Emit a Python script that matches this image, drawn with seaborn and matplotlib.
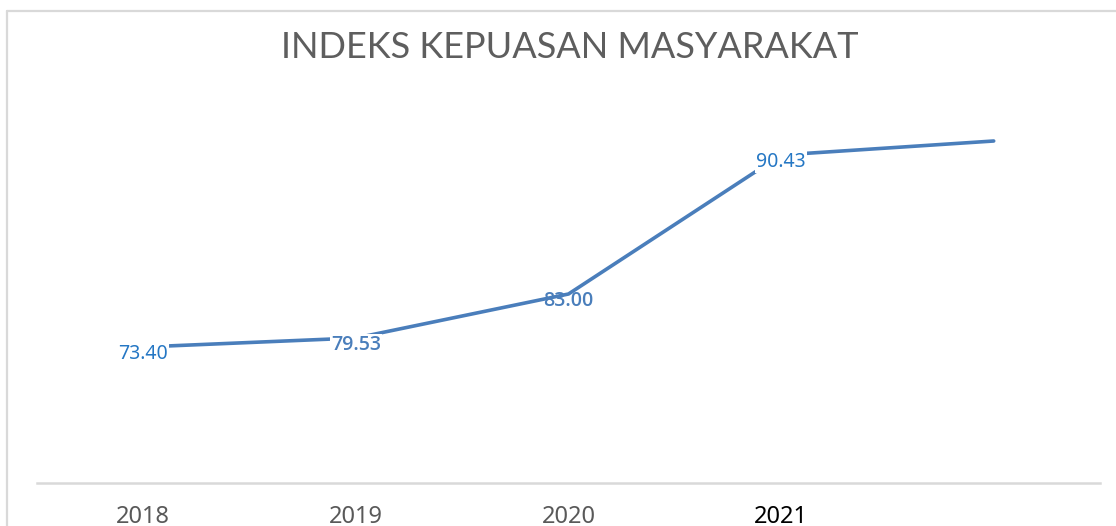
import numpy as np
import pandas as pd
import matplotlib
matplotlib.use("Agg")
import matplotlib.pyplot as plt
from matplotlib.lines import Line2D
import seaborn as sns

# ---- data ----
categories = ["2018", "2019", "2020", "2021", ""]
line_values = [73.6, 74.5, 78.9, 92.8, 94.2]          # plotted positions (estimated)
label_texts = ["73.40", "79.53", "83.00", "90.43"]     # data labels as printed
title_text = "INDEKS KEPUASAN MASYARAKAT"

sns.set_theme(style="white")
plt.rcParams["font.family"] = ["Noto Sans", "DejaVu Sans"]

W, H = 1116, 526
fig = plt.figure(figsize=(W / 100, H / 100), dpi=100)
fig.patch.set_facecolor("white")

# chart frame (left and top borders visible)
frame_col = "#D9D9D9"
fig.add_artist(Line2D([7 / W, 7 / W], [0, 1 - 11 / H], color=frame_col, lw=1.6,
                      transform=fig.transFigure))
fig.add_artist(Line2D([7 / W, 1], [1 - 11 / H, 1 - 11 / H], color=frame_col, lw=1.6,
                      transform=fig.transFigure))

ax = fig.add_axes([37 / W, 43 / H, (1100 - 37) / W, 400 / H])
df = pd.DataFrame({"pos": np.arange(len(line_values)), "val": line_values})
sns.lineplot(data=df, x="pos", y="val", ax=ax, color="#4A7EBB", lw=2.6,
             zorder=2, solid_joinstyle="miter")

ax.set_xlim(-0.5, len(line_values) - 0.5)
ax.set_ylim(60, 100)
ax.set_xlabel("")
ax.set_ylabel("")
ax.set_yticks([])
ax.set_xticks(np.arange(len(categories) - 1))
ax.set_xticklabels(categories[:-1], fontsize=17)
tick_colors = ["#595959", "#595959", "#595959", "#000000"]
for lbl, c in zip(ax.get_xticklabels(), tick_colors):
    lbl.set_color(c)
ax.tick_params(axis="x", length=0, pad=16)
for s in ["top", "right", "left"]:
    ax.spines[s].set_visible(False)
ax.spines["bottom"].set_color(frame_col)
ax.spines["bottom"].set_linewidth(1.8)
ax.set_facecolor("white")

# data labels
label_colors = ["#2577C4", "#4A7EBB", "#4A7EBB", "#2577C4"]
label_weights = ["normal", "semibold", "semibold", "normal"]
label_fams = [["Noto Sans"], ["Open Sans", "Noto Sans"], ["Open Sans", "Noto Sans"], ["Noto Sans"]]
label_z = [3, 3, 1, 3]
for i, txt in enumerate(label_texts):
    ax.annotate(txt, (i, line_values[i]), xytext=(0, -5), textcoords="offset points",
                ha="center", va="center", fontsize=14, color=label_colors[i],
                fontweight=label_weights[i], family=label_fams[i], zorder=label_z[i],
                bbox=dict(boxstyle="square,pad=0.05", fc="white", ec="none"))

fig.text(570 / W, 1 - 47 / H, title_text, ha="center", va="center",
         fontsize=26, color="#5E5E5E", family=["Lato", "DejaVu Sans"],
         fontweight="normal")

fig.savefig("out.png", dpi=100, facecolor="white")
